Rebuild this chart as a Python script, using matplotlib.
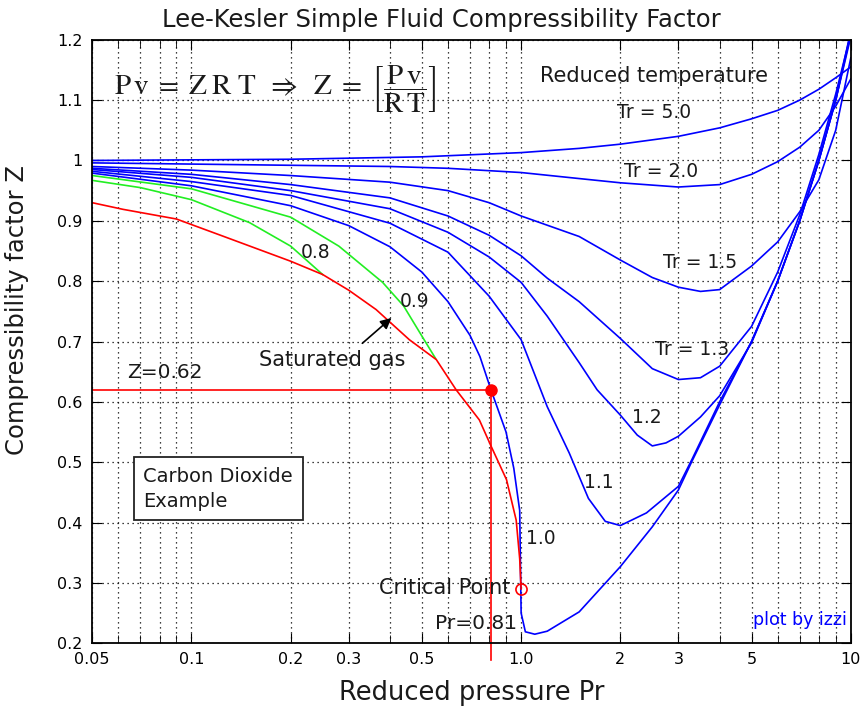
import matplotlib
matplotlib.use("Agg")
import matplotlib.pyplot as plt
from matplotlib.ticker import NullFormatter

# reduced temperature isotherms
pr_50 = [0.05, 0.1, 0.2, 0.5, 1.0, 1.5, 2.0, 3.0, 4.0, 5.0, 6.0, 7.0, 8.0, 9.0, 10.0]
z_50 = [1.000, 1.001, 1.002, 1.006, 1.013, 1.020, 1.027, 1.040, 1.054, 1.069, 1.083, 1.100, 1.118, 1.137, 1.155]

pr_20 = [0.05, 0.1, 0.2, 0.4, 0.6, 1.0, 1.5, 2.0, 3.0, 4.0, 5.0, 6.0, 7.0, 8.0, 9.0, 10.0]
z_20 = [0.996, 0.994, 0.992, 0.990, 0.987, 0.980, 0.970, 0.963, 0.956, 0.960, 0.977, 0.998, 1.022, 1.050, 1.090, 1.135]

pr_15 = [0.05, 0.1, 0.2, 0.4, 0.6, 0.8, 1.0, 1.5, 2.0, 2.5, 3.0, 3.5, 4.0, 5.0, 6.0, 7.0, 8.0, 9.0, 10.0]
z_15 = [0.990, 0.984, 0.975, 0.964, 0.950, 0.930, 0.908, 0.874, 0.835, 0.806, 0.790, 0.783, 0.786, 0.825, 0.865, 0.915, 0.968, 1.05, 1.17]

pr_13 = [0.05, 0.1, 0.2, 0.4, 0.6, 0.8, 1.0, 1.2, 1.5, 2.0, 2.5, 3.0, 3.5, 4.0, 5.0, 6.0, 7.0, 8.0, 9.0, 10.0]
z_13 = [0.987, 0.977, 0.960, 0.938, 0.908, 0.876, 0.842, 0.805, 0.766, 0.705, 0.655, 0.637, 0.640, 0.659, 0.725, 0.815, 0.910, 1.010, 1.110, 1.210]

pr_12 = [0.05, 0.1, 0.2, 0.4, 0.6, 0.8, 1.0, 1.2, 1.5, 1.7, 2.0, 2.25, 2.5, 2.75, 3.0, 3.5, 4.0, 5.0, 6.0, 7.0, 8.0, 9.0, 10.0]
z_12 = [0.985, 0.972, 0.950, 0.920, 0.881, 0.840, 0.798, 0.742, 0.665, 0.620, 0.578, 0.545, 0.527, 0.532, 0.543, 0.575, 0.610, 0.698, 0.800, 0.900, 1.000, 1.100, 1.205]

pr_11 = [0.05, 0.1, 0.2, 0.4, 0.6, 0.8, 1.0, 1.2, 1.4, 1.6, 1.8, 2.0, 2.4, 3.0, 3.3, 4.0, 5.0, 6.0, 7.0, 8.0, 9.0, 10.0]
z_11 = [0.982, 0.965, 0.942, 0.896, 0.848, 0.775, 0.703, 0.592, 0.515, 0.440, 0.402, 0.395, 0.416, 0.460, 0.505, 0.600, 0.700, 0.800, 0.900, 1.000, 1.100, 1.210]

pr_10 = [0.05, 0.1, 0.2, 0.3, 0.4, 0.5, 0.6, 0.7, 0.75, 0.81, 0.9, 0.95, 0.99, 1.0, 1.03, 1.1, 1.2, 1.5, 2.0, 2.5, 3.0, 3.3, 4.0, 5.0, 6.0, 7.0, 8.0, 9.0, 10.0]
z_10 = [0.979, 0.958, 0.925, 0.892, 0.857, 0.815, 0.766, 0.710, 0.675, 0.620, 0.550, 0.490, 0.420, 0.250, 0.219, 0.215, 0.220, 0.252, 0.327, 0.393, 0.454, 0.502, 0.595, 0.700, 0.800, 0.900, 1.000, 1.100, 1.215]

pr_09 = [0.05, 0.1, 0.2, 0.28, 0.38, 0.44, 0.5, 0.55]
z_09 = [0.975, 0.953, 0.906, 0.858, 0.798, 0.759, 0.709, 0.672]

pr_08 = [0.05, 0.07, 0.1, 0.15, 0.2, 0.25]
z_08 = [0.967, 0.955, 0.935, 0.897, 0.858, 0.811]

# saturated gas line
pr_sat = [0.05, 0.062, 0.09, 0.124, 0.2, 0.25, 0.3, 0.363, 0.458, 0.553, 0.635, 0.747, 0.81, 0.903, 0.966, 0.99, 1.0]
z_sat = [0.930, 0.919, 0.903, 0.875, 0.833, 0.811, 0.785, 0.753, 0.703, 0.670, 0.620, 0.570, 0.527, 0.471, 0.404, 0.340, 0.290]

# CO2 example
pr_co2, z_co2 = 0.81, 0.62
pr_crit, z_crit = 1.0, 0.29

x_ticks = [0.05, 0.1, 0.2, 0.3, 0.5, 1.0, 2, 3, 5, 10]
x_labels = ["0.05", "0.1", "0.2", "0.3", "0.5", "1.0", "2", "3", "5", "10"]
x_minor = [0.06, 0.07, 0.08, 0.09, 0.4, 0.6, 0.7, 0.8, 0.9, 4, 6, 7, 8, 9]
y_ticks = [0.2, 0.3, 0.4, 0.5, 0.6, 0.7, 0.8, 0.9, 1.0, 1.1, 1.2]
y_labels = ["0.2", "0.3", "0.4", "0.5", "0.6", "0.7", "0.8", "0.9", "1", "1.1", "1.2"]

blue = "#0000ff"
green = "#22ee22"
red = "#ff0000"
ink = "#1a1a1a"

fig = plt.figure(figsize=(8.62, 7.10), dpi=100)
ax = fig.add_axes([0.107, 0.094, 0.880, 0.850])
ax.set_xscale("log")

for pr, z in [(pr_50, z_50), (pr_20, z_20), (pr_15, z_15), (pr_13, z_13),
              (pr_12, z_12), (pr_11, z_11), (pr_10, z_10)]:
    ax.plot(pr, z, color=blue, lw=1.2)
ax.plot(pr_09, z_09, color=green, lw=1.2)
ax.plot(pr_08, z_08, color=green, lw=1.2)
ax.plot(pr_sat, z_sat, color=red, lw=1.2)

# example lines
ax.plot([0.05, pr_co2], [z_co2, z_co2], color=red, lw=1.2)
ax.plot([pr_co2, pr_co2], [z_co2, 0.172], color=red, lw=1.2, clip_on=False)
ax.plot(pr_co2, z_co2, "o", color=red, ms=8)
ax.plot(pr_crit, z_crit, "o", mfc="none", mec=red, ms=8, mew=1.2)

ax.set_xlim(0.05, 10)
ax.set_ylim(0.2, 1.2)
ax.set_xticks(x_ticks)
ax.set_xticklabels(x_labels)
ax.set_xticks(x_minor, minor=True)
ax.xaxis.set_minor_formatter(NullFormatter())
ax.set_yticks(y_ticks)
ax.set_yticklabels(y_labels)
ax.tick_params(which="both", direction="in", top=True, right=True, labelsize=11.5)
ax.tick_params(axis="x", pad=6)
ax.tick_params(axis="y", pad=7)
ax.tick_params(which="major", length=7)
ax.tick_params(which="minor", length=6)
ax.grid(True, which="both", axis="x", ls=(0, (1, 3)), color="k", lw=0.9)
ax.grid(True, which="major", axis="y", ls=(0, (1, 3)), color="k", lw=0.9)
for s in ax.spines.values():
    s.set_linewidth(1.3)

fig.text(0.512, 0.972, "Lee-Kesler Simple Fluid Compressibility Factor", fontsize=17.5, color=ink,
         ha="center", va="center")
ax.set_xlabel("Reduced pressure Pr", fontsize=18.5, color=ink, labelpad=10)
ax.set_ylabel("Compressibility factor Z", fontsize=17.5, color=ink)
ax.yaxis.set_label_coords(-0.084, 0.552)

ax.text(0.18, 1.118,
        r"$\mathrm{P\,v\;=\;Z\;R\;T\;\;\Rightarrow\;\;Z\;=\;}\left[\dfrac{\mathrm{P\,v}}{\mathrm{R\,T}}\right]$",
        fontsize=21, math_fontfamily="stix", ha="center", va="center", color=ink)

lab = dict(fontsize=13.5, color=ink, ha="center", va="center")
ax.text(2.53, 1.140, "Reduced temperature", fontsize=15, color=ink, ha="center", va="center")
ax.text(2.53, 1.080, "Tr = 5.0", **lab)
ax.text(2.65, 0.982, "Tr = 2.0", **lab)
ax.text(3.5, 0.831, "Tr = 1.5", **lab)
ax.text(3.3, 0.687, "Tr = 1.3", **lab)
ax.text(2.41, 0.574, "1.2", **lab)
ax.text(1.72, 0.467, "1.1", **lab)
ax.text(1.15, 0.374, "1.0", **lab)
ax.text(0.238, 0.848, "0.8", **lab)
ax.text(0.475, 0.766, "0.9", **lab)
ax.text(0.268, 0.670, "Saturated gas", fontsize=15, color=ink, ha="center", va="center")
ax.annotate("", xy=(0.41, 0.742), xytext=(0.325, 0.694),
            arrowprops=dict(arrowstyle="-|>", color="k", lw=1.2, mutation_scale=16))
ax.text(0.0636, 0.648, "Z=0.62", fontsize=14.5, color=ink, ha="left", va="center")
ax.text(0.0715, 0.456, "Carbon Dioxide\nExample", fontsize=14, color=ink, ha="left", va="center",
        linespacing=1.4, bbox=dict(boxstyle="square,pad=0.5", fc="white", ec="#222222", lw=1.3))
ax.text(0.93, 0.292, "Critical Point", fontsize=15, color=ink, ha="right", va="center")
ax.text(0.975, 0.232, "Pr=0.81", fontsize=14.5, color=ink, ha="right", va="center")
ax.text(9.7, 0.238, "plot by izzi", fontsize=12.5, color=blue, ha="right", va="center")

fig.savefig("out.png", dpi=100)
